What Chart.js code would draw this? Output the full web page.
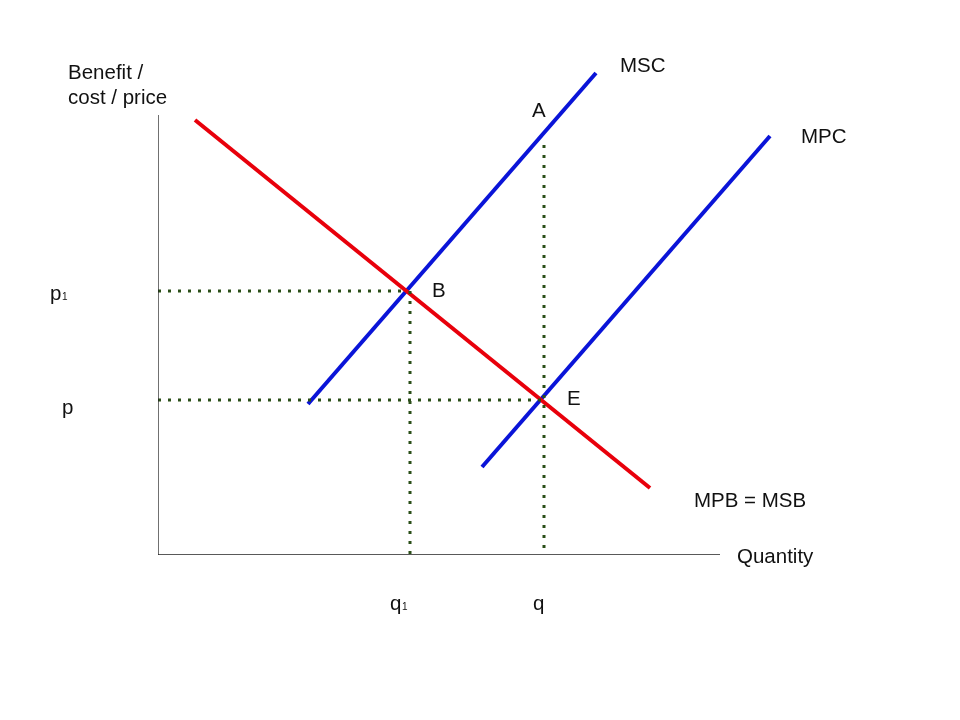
<!DOCTYPE html>
<html><head><meta charset="utf-8">
<script src="https://cdn.jsdelivr.net/npm/chart.js@4"></script>
<style>html,body{margin:0;background:#fff}#w{width:960px;height:720px}</style>
</head><body><div id="w"><canvas id="c"></canvas></div>
<script>
// data in diagram units (x: quantity, y: price)
const mpbMsb = [{x:37,y:435},{x:492,y:67}];
const msc = [{x:150,y:151},{x:438,y:482}];
const mpc = [{x:324,y:88},{x:612,y:419}];
const p1Line = [{x:0,y:264},{x:250,y:264}];
const q1Line = [{x:252,y:264},{x:252,y:0}];
const pLine = [{x:0,y:155},{x:385,y:155}];
const qLine = [{x:386,y:410},{x:386,y:0}];
const yAxis = [{x:0,y:0},{x:0,y:440}];
const xAxis = [{x:0,y:0},{x:562,y:0}];

const dot = {borderColor:'#2b4f18',borderWidth:3,borderDash:[3,7],pointRadius:0,showLine:true,fill:false};
const solid = (d,c,w)=>({data:d,borderColor:c,borderWidth:w,pointRadius:0,showLine:true,fill:false});

const labels = {
  id:'labels',
  afterDraw(chart){
    const ctx=chart.ctx;
    ctx.save();ctx.fillStyle='#111';ctx.textBaseline='middle';
    ctx.font='20.5px "Liberation Sans", Arial, sans-serif';
    const t=(s,x,y)=>ctx.fillText(s,x,y);
    t('Benefit /',68,73);t('cost / price',68,98);
    t('MSC',620,66);t('MPC',801,137);t('A',532,111);t('B',432,291);t('E',567,399);
    t('MPB = MSB',694,501);t('Quantity',737,557);
    t('p',50,294);t('p',62,408);t('q',390,604);t('q',533,604);
    ctx.font='10px "Liberation Sans", Arial, sans-serif';
    t('1',62,297);t('1',402,607);
    ctx.restore();
  }
};

new Chart(document.getElementById('c'),{
  type:'scatter',
  data:{datasets:[
    solid(yAxis,'#222',1.3), solid(xAxis,'#222',1.3),
    Object.assign({data:p1Line},dot), Object.assign({data:q1Line},dot),
    Object.assign({data:pLine},dot), Object.assign({data:qLine},dot),
    solid(mpbMsb,'#e8000b',4), solid(msc,'#0a14d8',4), solid(mpc,'#0a14d8',4)
  ]},
  options:{
    responsive:true,maintainAspectRatio:false,animation:false,
    layout:{padding:{left:158,right:0,top:0,bottom:165}},
    plugins:{legend:{display:false},tooltip:{enabled:false}},
    scales:{
      x:{type:'linear',min:0,max:802,display:false},
      y:{type:'linear',min:0,max:555,display:false}
    }
  },
  plugins:[labels]
});
</script></body></html>
